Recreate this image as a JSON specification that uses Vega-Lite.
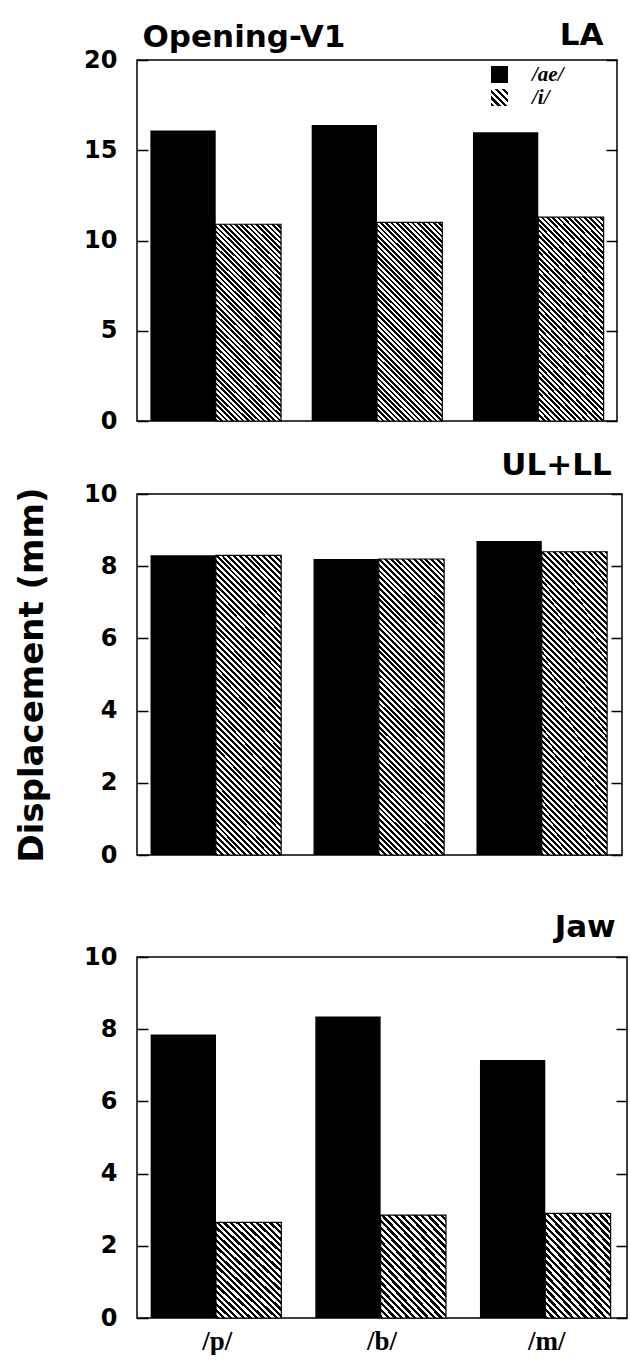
{
"$schema": "https://vega.github.io/schema/vega-lite/v6.json",
"background": "white",
"padding": {"left": 14, "top": 18, "right": 0, "bottom": 0},
"spacing": 15,
"config": {
  "view": {"stroke": "black", "strokeWidth": 1.5},
  "font": "DejaVu Sans",
  "axis": {"grid": false, "domain": false, "labelFont": "DejaVu Sans", "labelFontWeight": "bold", "labelFontSize": 24, "labelColor": "black", "tickColor": "black", "tickWidth": 1.5, "titleFont": "DejaVu Sans", "titleFontWeight": "bold", "titleColor": "black"},
  "title": {"font": "DejaVu Sans", "fontWeight": "bold", "fontSize": 31, "color": "black", "baseline": "alphabetic"},
  "legend": {"title": null, "orient": "none", "symbolType": "square", "symbolSize": 289, "symbolStrokeWidth": 0, "symbolOpacity": 1, "labelFont": "Liberation Serif", "labelFontStyle": "italic", "labelFontWeight": "bold", "labelFontSize": 21, "labelColor": "black", "labelOffset": 22, "padding": 0}
},
"datasets": {"d": [
  {"panel": "LA", "cons": "/p/", "vowel": "/ae/", "value": 16.1},
  {"panel": "LA", "cons": "/p/", "vowel": "/i/", "value": 10.9},
  {"panel": "LA", "cons": "/b/", "vowel": "/ae/", "value": 16.4},
  {"panel": "LA", "cons": "/b/", "vowel": "/i/", "value": 11.0},
  {"panel": "LA", "cons": "/m/", "vowel": "/ae/", "value": 16.0},
  {"panel": "LA", "cons": "/m/", "vowel": "/i/", "value": 11.3},
  {"panel": "ULLL", "cons": "/p/", "vowel": "/ae/", "value": 8.3},
  {"panel": "ULLL", "cons": "/p/", "vowel": "/i/", "value": 8.3},
  {"panel": "ULLL", "cons": "/b/", "vowel": "/ae/", "value": 8.2},
  {"panel": "ULLL", "cons": "/b/", "vowel": "/i/", "value": 8.2},
  {"panel": "ULLL", "cons": "/m/", "vowel": "/ae/", "value": 8.7},
  {"panel": "ULLL", "cons": "/m/", "vowel": "/i/", "value": 8.4},
  {"panel": "Jaw", "cons": "/p/", "vowel": "/ae/", "value": 7.85},
  {"panel": "Jaw", "cons": "/p/", "vowel": "/i/", "value": 2.65},
  {"panel": "Jaw", "cons": "/b/", "vowel": "/ae/", "value": 8.35},
  {"panel": "Jaw", "cons": "/b/", "vowel": "/i/", "value": 2.85},
  {"panel": "Jaw", "cons": "/m/", "vowel": "/ae/", "value": 7.15},
  {"panel": "Jaw", "cons": "/m/", "vowel": "/i/", "value": 2.9}
]},
"vconcat": [
{
  "width": 480, "height": 361,
  "data": {"name": "d"},
  "transform": [{"filter": "datum.panel === 'LA'"}],
  "resolve": {"axis": {"y": "independent"}, "scale": {"opacity": "independent"}, "legend": {"opacity": "independent"}},
  "layer": [
    {
      "transform": [{"filter": "datum.vowel === '/ae/'"}],
      "mark": {"type": "bar", "fill": "black"},
      "encoding": {
        "x": {"field": "cons", "type": "nominal", "scale": {"domain": ["/p/", "/b/", "/m/"], "paddingInner": 0.19, "paddingOuter": 0.083}, "axis": null},
        "xOffset": {"field": "vowel", "type": "nominal", "scale": {"domain": ["/ae/", "/i/"], "paddingInner": 0, "paddingOuter": 0}},
        "y": {"field": "value", "type": "quantitative", "scale": {"domain": [0, 20], "nice": false}, "axis": {"orient": "left", "values": [0, 5, 10, 15, 20], "tickSize": -11, "labelPadding": 31, "title": "Opening-V1", "titleAngle": 0, "titleAlign": "left", "titleBaseline": "alphabetic", "titleX": 5, "titleY": -14, "titleFontSize": 31}},
        "opacity": {"field": "vowel", "type": "ordinal", "scale": {"domain": ["/ae/"], "range": [1]}, "legend": {"legendX": 352, "legendY": 4}}
      }
    },
    {
      "transform": [{"filter": "datum.vowel === '/i/'"}],
      "mark": {"type": "bar", "fill": {"gradient": "linear", "x1": 0, "y1": 1, "x2": 1, "y2": 0, "stops": [
              {"offset":0,"color":"#000"},{"offset":0.1,"color":"#000"},{"offset":0.1,"color":"#fff"},{"offset":0.2,"color":"#fff"},{"offset":0.2,"color":"#000"},{"offset":0.3,"color":"#000"},{"offset":0.3,"color":"#fff"},{"offset":0.4,"color":"#fff"},{"offset":0.4,"color":"#000"},{"offset":0.5,"color":"#000"},{"offset":0.5,"color":"#fff"},{"offset":0.6,"color":"#fff"},{"offset":0.6,"color":"#000"},{"offset":0.7,"color":"#000"},{"offset":0.7,"color":"#fff"},{"offset":0.8,"color":"#fff"},{"offset":0.8,"color":"#000"},{"offset":0.9,"color":"#000"},{"offset":0.9,"color":"#fff"},{"offset":1,"color":"#fff"}]}},
      "encoding": {
        "x": {"field": "cons", "type": "nominal", "axis": null},
        "xOffset": {"field": "vowel", "type": "nominal"},
        "y": {"field": "value", "type": "quantitative", "axis": null},
        "y2": {"field": "value"},
        "opacity": {"field": "vowel", "type": "ordinal", "scale": {"domain": ["/i/"], "range": [1]}, "legend": {"legendX": 352, "legendY": 27}}
      }
    },
    {
      "transform": [{"filter": "datum.vowel === '/i/'"}],
      "mark": {"type": "bar", "stroke": "black", "strokeWidth": 1.2, "fill": {"gradient": "linear", "x1": 0, "y1": 1, "x2": 0.394, "y2": -0.2, "stops": [
        {"offset":0,"color":"#000"},
        {"offset":0.01,"color":"#000"},{"offset":0.01,"color":"#fff"},{"offset":0.02,"color":"#fff"},{"offset":0.02,"color":"#000"},
        {"offset":0.03,"color":"#000"},{"offset":0.03,"color":"#fff"},{"offset":0.04,"color":"#fff"},{"offset":0.04,"color":"#000"},
        {"offset":0.05,"color":"#000"},{"offset":0.05,"color":"#fff"},{"offset":0.06,"color":"#fff"},{"offset":0.06,"color":"#000"},
        {"offset":0.07,"color":"#000"},{"offset":0.07,"color":"#fff"},{"offset":0.08,"color":"#fff"},{"offset":0.08,"color":"#000"},
        {"offset":0.09,"color":"#000"},{"offset":0.09,"color":"#fff"},{"offset":0.10,"color":"#fff"},{"offset":0.10,"color":"#000"},
        {"offset":0.11,"color":"#000"},{"offset":0.11,"color":"#fff"},{"offset":0.12,"color":"#fff"},{"offset":0.12,"color":"#000"},
        {"offset":0.13,"color":"#000"},{"offset":0.13,"color":"#fff"},{"offset":0.14,"color":"#fff"},{"offset":0.14,"color":"#000"},
        {"offset":0.15,"color":"#000"},{"offset":0.15,"color":"#fff"},{"offset":0.16,"color":"#fff"},{"offset":0.16,"color":"#000"},
        {"offset":0.17,"color":"#000"},{"offset":0.17,"color":"#fff"},{"offset":0.18,"color":"#fff"},{"offset":0.18,"color":"#000"},
        {"offset":0.19,"color":"#000"},{"offset":0.19,"color":"#fff"},{"offset":0.20,"color":"#fff"},{"offset":0.20,"color":"#000"},
        {"offset":0.21,"color":"#000"},{"offset":0.21,"color":"#fff"},{"offset":0.22,"color":"#fff"},{"offset":0.22,"color":"#000"},
        {"offset":0.23,"color":"#000"},{"offset":0.23,"color":"#fff"},{"offset":0.24,"color":"#fff"},{"offset":0.24,"color":"#000"},
        {"offset":0.25,"color":"#000"},{"offset":0.25,"color":"#fff"},{"offset":0.26,"color":"#fff"},{"offset":0.26,"color":"#000"},
        {"offset":0.27,"color":"#000"},{"offset":0.27,"color":"#fff"},{"offset":0.28,"color":"#fff"},{"offset":0.28,"color":"#000"},
        {"offset":0.29,"color":"#000"},{"offset":0.29,"color":"#fff"},{"offset":0.30,"color":"#fff"},{"offset":0.30,"color":"#000"},
        {"offset":0.31,"color":"#000"},{"offset":0.31,"color":"#fff"},{"offset":0.32,"color":"#fff"},{"offset":0.32,"color":"#000"},
        {"offset":0.33,"color":"#000"},{"offset":0.33,"color":"#fff"},{"offset":0.34,"color":"#fff"},{"offset":0.34,"color":"#000"},
        {"offset":0.35,"color":"#000"},{"offset":0.35,"color":"#fff"},{"offset":0.36,"color":"#fff"},{"offset":0.36,"color":"#000"},
        {"offset":0.37,"color":"#000"},{"offset":0.37,"color":"#fff"},{"offset":0.38,"color":"#fff"},{"offset":0.38,"color":"#000"},
        {"offset":0.39,"color":"#000"},{"offset":0.39,"color":"#fff"},{"offset":0.40,"color":"#fff"},{"offset":0.40,"color":"#000"},
        {"offset":0.41,"color":"#000"},{"offset":0.41,"color":"#fff"},{"offset":0.42,"color":"#fff"},{"offset":0.42,"color":"#000"},
        {"offset":0.43,"color":"#000"},{"offset":0.43,"color":"#fff"},{"offset":0.44,"color":"#fff"},{"offset":0.44,"color":"#000"},
        {"offset":0.45,"color":"#000"},{"offset":0.45,"color":"#fff"},{"offset":0.46,"color":"#fff"},{"offset":0.46,"color":"#000"},
        {"offset":0.47,"color":"#000"},{"offset":0.47,"color":"#fff"},{"offset":0.48,"color":"#fff"},{"offset":0.48,"color":"#000"},
        {"offset":0.49,"color":"#000"},{"offset":0.49,"color":"#fff"},{"offset":0.50,"color":"#fff"},{"offset":0.50,"color":"#000"},
        {"offset":0.51,"color":"#000"},{"offset":0.51,"color":"#fff"},{"offset":0.52,"color":"#fff"},{"offset":0.52,"color":"#000"},
        {"offset":0.53,"color":"#000"},{"offset":0.53,"color":"#fff"},{"offset":0.54,"color":"#fff"},{"offset":0.54,"color":"#000"},
        {"offset":0.55,"color":"#000"},{"offset":0.55,"color":"#fff"},{"offset":0.56,"color":"#fff"},{"offset":0.56,"color":"#000"},
        {"offset":0.57,"color":"#000"},{"offset":0.57,"color":"#fff"},{"offset":0.58,"color":"#fff"},{"offset":0.58,"color":"#000"},
        {"offset":0.59,"color":"#000"},{"offset":0.59,"color":"#fff"},{"offset":0.60,"color":"#fff"},{"offset":0.60,"color":"#000"},
        {"offset":0.61,"color":"#000"},{"offset":0.61,"color":"#fff"},{"offset":0.62,"color":"#fff"},{"offset":0.62,"color":"#000"},
        {"offset":0.63,"color":"#000"},{"offset":0.63,"color":"#fff"},{"offset":0.64,"color":"#fff"},{"offset":0.64,"color":"#000"},
        {"offset":0.65,"color":"#000"},{"offset":0.65,"color":"#fff"},{"offset":0.66,"color":"#fff"},{"offset":0.66,"color":"#000"},
        {"offset":0.67,"color":"#000"},{"offset":0.67,"color":"#fff"},{"offset":0.68,"color":"#fff"},{"offset":0.68,"color":"#000"},
        {"offset":0.69,"color":"#000"},{"offset":0.69,"color":"#fff"},{"offset":0.70,"color":"#fff"},{"offset":0.70,"color":"#000"},
        {"offset":0.71,"color":"#000"},{"offset":0.71,"color":"#fff"},{"offset":0.72,"color":"#fff"},{"offset":0.72,"color":"#000"},
        {"offset":0.73,"color":"#000"},{"offset":0.73,"color":"#fff"},{"offset":0.74,"color":"#fff"},{"offset":0.74,"color":"#000"},
        {"offset":0.75,"color":"#000"},{"offset":0.75,"color":"#fff"},{"offset":0.76,"color":"#fff"},{"offset":0.76,"color":"#000"},
        {"offset":0.77,"color":"#000"},{"offset":0.77,"color":"#fff"},{"offset":0.78,"color":"#fff"},{"offset":0.78,"color":"#000"},
        {"offset":0.79,"color":"#000"},{"offset":0.79,"color":"#fff"},{"offset":0.80,"color":"#fff"},{"offset":0.80,"color":"#000"},
        {"offset":0.81,"color":"#000"},{"offset":0.81,"color":"#fff"},{"offset":0.82,"color":"#fff"},{"offset":0.82,"color":"#000"},
        {"offset":0.83,"color":"#000"},{"offset":0.83,"color":"#fff"},{"offset":0.84,"color":"#fff"},{"offset":0.84,"color":"#000"},
        {"offset":0.85,"color":"#000"},{"offset":0.85,"color":"#fff"},{"offset":0.86,"color":"#fff"},{"offset":0.86,"color":"#000"},
        {"offset":0.87,"color":"#000"},{"offset":0.87,"color":"#fff"},{"offset":0.88,"color":"#fff"},{"offset":0.88,"color":"#000"},
        {"offset":0.89,"color":"#000"},{"offset":0.89,"color":"#fff"},{"offset":0.90,"color":"#fff"},{"offset":0.90,"color":"#000"},
        {"offset":0.91,"color":"#000"},{"offset":0.91,"color":"#fff"},{"offset":0.92,"color":"#fff"},{"offset":0.92,"color":"#000"},
        {"offset":0.93,"color":"#000"},{"offset":0.93,"color":"#fff"},{"offset":0.94,"color":"#fff"},{"offset":0.94,"color":"#000"},
        {"offset":0.95,"color":"#000"},{"offset":0.95,"color":"#fff"},{"offset":0.96,"color":"#fff"},{"offset":0.96,"color":"#000"},
        {"offset":0.97,"color":"#000"},{"offset":0.97,"color":"#fff"},{"offset":0.98,"color":"#fff"},{"offset":0.98,"color":"#000"},
        {"offset":0.99,"color":"#000"},{"offset":0.99,"color":"#fff"},{"offset":1,"color":"#fff"}]}},
      "encoding": {
        "x": {"field": "cons", "type": "nominal", "axis": null},
        "xOffset": {"field": "vowel", "type": "nominal"},
        "y": {"field": "value", "type": "quantitative", "axis": {"orient": "right", "values": [0, 5, 10, 15, 20], "labels": false, "tickSize": -11, "title": "LA", "titleAngle": 0, "titleAlign": "right", "titleBaseline": "alphabetic", "titleX": -14, "titleY": -16, "titleFontSize": 31}}
      }
    }
  ]
},
{
  "width": 485, "height": 361,
  "title": {"text": "UL+LL", "anchor": "end", "offset": 0, "dx": -11},
  "data": {"name": "d"},
  "transform": [{"filter": "datum.panel === 'ULLL'"}],
  "resolve": {"axis": {"y": "independent"}},
  "layer": [
    {
      "transform": [{"filter": "datum.vowel === '/ae/'"}],
      "mark": {"type": "bar", "fill": "black"},
      "encoding": {
        "x": {"field": "cons", "type": "nominal", "scale": {"domain": ["/p/", "/b/", "/m/"], "paddingInner": 0.19, "paddingOuter": 0.083}, "axis": {"labels": false, "ticks": false, "domain": false, "title": null, "minExtent": 40, "maxExtent": 40}},
        "xOffset": {"field": "vowel", "type": "nominal", "scale": {"domain": ["/ae/", "/i/"], "paddingInner": 0, "paddingOuter": 0}},
        "y": {"field": "value", "type": "quantitative", "scale": {"domain": [0, 10], "nice": false}, "axis": {"orient": "left", "values": [0, 2, 4, 6, 8, 10], "title": "Displacement (mm)", "titleFontSize": 34, "titlePadding": 34, "tickSize": -11, "labelPadding": 31}}
      }
    },
    {
      "transform": [{"filter": "datum.vowel === '/i/'"}],
      "mark": {"type": "bar", "stroke": "black", "strokeWidth": 1.2, "fill": {"gradient": "linear", "x1": 0, "y1": 1, "x2": 0.256, "y2": -0.164, "stops": [
        {"offset":0,"color":"#000"},
        {"offset":0.008,"color":"#000"},{"offset":0.008,"color":"#fff"},{"offset":0.016,"color":"#fff"},{"offset":0.016,"color":"#000"},
        {"offset":0.024,"color":"#000"},{"offset":0.024,"color":"#fff"},{"offset":0.032,"color":"#fff"},{"offset":0.032,"color":"#000"},
        {"offset":0.04,"color":"#000"},{"offset":0.04,"color":"#fff"},{"offset":0.048,"color":"#fff"},{"offset":0.048,"color":"#000"},
        {"offset":0.056,"color":"#000"},{"offset":0.056,"color":"#fff"},{"offset":0.064,"color":"#fff"},{"offset":0.064,"color":"#000"},
        {"offset":0.072,"color":"#000"},{"offset":0.072,"color":"#fff"},{"offset":0.08,"color":"#fff"},{"offset":0.08,"color":"#000"},
        {"offset":0.088,"color":"#000"},{"offset":0.088,"color":"#fff"},{"offset":0.096,"color":"#fff"},{"offset":0.096,"color":"#000"},
        {"offset":0.104,"color":"#000"},{"offset":0.104,"color":"#fff"},{"offset":0.112,"color":"#fff"},{"offset":0.112,"color":"#000"},
        {"offset":0.12,"color":"#000"},{"offset":0.12,"color":"#fff"},{"offset":0.128,"color":"#fff"},{"offset":0.128,"color":"#000"},
        {"offset":0.136,"color":"#000"},{"offset":0.136,"color":"#fff"},{"offset":0.144,"color":"#fff"},{"offset":0.144,"color":"#000"},
        {"offset":0.152,"color":"#000"},{"offset":0.152,"color":"#fff"},{"offset":0.16,"color":"#fff"},{"offset":0.16,"color":"#000"},
        {"offset":0.168,"color":"#000"},{"offset":0.168,"color":"#fff"},{"offset":0.176,"color":"#fff"},{"offset":0.176,"color":"#000"},
        {"offset":0.184,"color":"#000"},{"offset":0.184,"color":"#fff"},{"offset":0.192,"color":"#fff"},{"offset":0.192,"color":"#000"},
        {"offset":0.2,"color":"#000"},{"offset":0.2,"color":"#fff"},{"offset":0.208,"color":"#fff"},{"offset":0.208,"color":"#000"},
        {"offset":0.216,"color":"#000"},{"offset":0.216,"color":"#fff"},{"offset":0.224,"color":"#fff"},{"offset":0.224,"color":"#000"},
        {"offset":0.232,"color":"#000"},{"offset":0.232,"color":"#fff"},{"offset":0.24,"color":"#fff"},{"offset":0.24,"color":"#000"},
        {"offset":0.248,"color":"#000"},{"offset":0.248,"color":"#fff"},{"offset":0.256,"color":"#fff"},{"offset":0.256,"color":"#000"},
        {"offset":0.264,"color":"#000"},{"offset":0.264,"color":"#fff"},{"offset":0.272,"color":"#fff"},{"offset":0.272,"color":"#000"},
        {"offset":0.28,"color":"#000"},{"offset":0.28,"color":"#fff"},{"offset":0.288,"color":"#fff"},{"offset":0.288,"color":"#000"},
        {"offset":0.296,"color":"#000"},{"offset":0.296,"color":"#fff"},{"offset":0.304,"color":"#fff"},{"offset":0.304,"color":"#000"},
        {"offset":0.312,"color":"#000"},{"offset":0.312,"color":"#fff"},{"offset":0.32,"color":"#fff"},{"offset":0.32,"color":"#000"},
        {"offset":0.328,"color":"#000"},{"offset":0.328,"color":"#fff"},{"offset":0.336,"color":"#fff"},{"offset":0.336,"color":"#000"},
        {"offset":0.344,"color":"#000"},{"offset":0.344,"color":"#fff"},{"offset":0.352,"color":"#fff"},{"offset":0.352,"color":"#000"},
        {"offset":0.36,"color":"#000"},{"offset":0.36,"color":"#fff"},{"offset":0.368,"color":"#fff"},{"offset":0.368,"color":"#000"},
        {"offset":0.376,"color":"#000"},{"offset":0.376,"color":"#fff"},{"offset":0.384,"color":"#fff"},{"offset":0.384,"color":"#000"},
        {"offset":0.392,"color":"#000"},{"offset":0.392,"color":"#fff"},{"offset":0.4,"color":"#fff"},{"offset":0.4,"color":"#000"},
        {"offset":0.408,"color":"#000"},{"offset":0.408,"color":"#fff"},{"offset":0.416,"color":"#fff"},{"offset":0.416,"color":"#000"},
        {"offset":0.424,"color":"#000"},{"offset":0.424,"color":"#fff"},{"offset":0.432,"color":"#fff"},{"offset":0.432,"color":"#000"},
        {"offset":0.44,"color":"#000"},{"offset":0.44,"color":"#fff"},{"offset":0.448,"color":"#fff"},{"offset":0.448,"color":"#000"},
        {"offset":0.456,"color":"#000"},{"offset":0.456,"color":"#fff"},{"offset":0.464,"color":"#fff"},{"offset":0.464,"color":"#000"},
        {"offset":0.472,"color":"#000"},{"offset":0.472,"color":"#fff"},{"offset":0.48,"color":"#fff"},{"offset":0.48,"color":"#000"},
        {"offset":0.488,"color":"#000"},{"offset":0.488,"color":"#fff"},{"offset":0.496,"color":"#fff"},{"offset":0.496,"color":"#000"},
        {"offset":0.504,"color":"#000"},{"offset":0.504,"color":"#fff"},{"offset":0.512,"color":"#fff"},{"offset":0.512,"color":"#000"},
        {"offset":0.52,"color":"#000"},{"offset":0.52,"color":"#fff"},{"offset":0.528,"color":"#fff"},{"offset":0.528,"color":"#000"},
        {"offset":0.536,"color":"#000"},{"offset":0.536,"color":"#fff"},{"offset":0.544,"color":"#fff"},{"offset":0.544,"color":"#000"},
        {"offset":0.552,"color":"#000"},{"offset":0.552,"color":"#fff"},{"offset":0.56,"color":"#fff"},{"offset":0.56,"color":"#000"},
        {"offset":0.568,"color":"#000"},{"offset":0.568,"color":"#fff"},{"offset":0.576,"color":"#fff"},{"offset":0.576,"color":"#000"},
        {"offset":0.584,"color":"#000"},{"offset":0.584,"color":"#fff"},{"offset":0.592,"color":"#fff"},{"offset":0.592,"color":"#000"},
        {"offset":0.6,"color":"#000"},{"offset":0.6,"color":"#fff"},{"offset":0.608,"color":"#fff"},{"offset":0.608,"color":"#000"},
        {"offset":0.616,"color":"#000"},{"offset":0.616,"color":"#fff"},{"offset":0.624,"color":"#fff"},{"offset":0.624,"color":"#000"},
        {"offset":0.632,"color":"#000"},{"offset":0.632,"color":"#fff"},{"offset":0.64,"color":"#fff"},{"offset":0.64,"color":"#000"},
        {"offset":0.648,"color":"#000"},{"offset":0.648,"color":"#fff"},{"offset":0.656,"color":"#fff"},{"offset":0.656,"color":"#000"},
        {"offset":0.664,"color":"#000"},{"offset":0.664,"color":"#fff"},{"offset":0.672,"color":"#fff"},{"offset":0.672,"color":"#000"},
        {"offset":0.68,"color":"#000"},{"offset":0.68,"color":"#fff"},{"offset":0.688,"color":"#fff"},{"offset":0.688,"color":"#000"},
        {"offset":0.696,"color":"#000"},{"offset":0.696,"color":"#fff"},{"offset":0.704,"color":"#fff"},{"offset":0.704,"color":"#000"},
        {"offset":0.712,"color":"#000"},{"offset":0.712,"color":"#fff"},{"offset":0.72,"color":"#fff"},{"offset":0.72,"color":"#000"},
        {"offset":0.728,"color":"#000"},{"offset":0.728,"color":"#fff"},{"offset":0.736,"color":"#fff"},{"offset":0.736,"color":"#000"},
        {"offset":0.744,"color":"#000"},{"offset":0.744,"color":"#fff"},{"offset":0.752,"color":"#fff"},{"offset":0.752,"color":"#000"},
        {"offset":0.76,"color":"#000"},{"offset":0.76,"color":"#fff"},{"offset":0.768,"color":"#fff"},{"offset":0.768,"color":"#000"},
        {"offset":0.776,"color":"#000"},{"offset":0.776,"color":"#fff"},{"offset":0.784,"color":"#fff"},{"offset":0.784,"color":"#000"},
        {"offset":0.792,"color":"#000"},{"offset":0.792,"color":"#fff"},{"offset":0.8,"color":"#fff"},{"offset":0.8,"color":"#000"},
        {"offset":0.808,"color":"#000"},{"offset":0.808,"color":"#fff"},{"offset":0.816,"color":"#fff"},{"offset":0.816,"color":"#000"},
        {"offset":0.824,"color":"#000"},{"offset":0.824,"color":"#fff"},{"offset":0.832,"color":"#fff"},{"offset":0.832,"color":"#000"},
        {"offset":0.84,"color":"#000"},{"offset":0.84,"color":"#fff"},{"offset":0.848,"color":"#fff"},{"offset":0.848,"color":"#000"},
        {"offset":0.856,"color":"#000"},{"offset":0.856,"color":"#fff"},{"offset":0.864,"color":"#fff"},{"offset":0.864,"color":"#000"},
        {"offset":0.872,"color":"#000"},{"offset":0.872,"color":"#fff"},{"offset":0.88,"color":"#fff"},{"offset":0.88,"color":"#000"},
        {"offset":0.888,"color":"#000"},{"offset":0.888,"color":"#fff"},{"offset":0.896,"color":"#fff"},{"offset":0.896,"color":"#000"},
        {"offset":0.904,"color":"#000"},{"offset":0.904,"color":"#fff"},{"offset":0.912,"color":"#fff"},{"offset":0.912,"color":"#000"},
        {"offset":0.92,"color":"#000"},{"offset":0.92,"color":"#fff"},{"offset":0.928,"color":"#fff"},{"offset":0.928,"color":"#000"},
        {"offset":0.936,"color":"#000"},{"offset":0.936,"color":"#fff"},{"offset":0.944,"color":"#fff"},{"offset":0.944,"color":"#000"},
        {"offset":0.952,"color":"#000"},{"offset":0.952,"color":"#fff"},{"offset":0.96,"color":"#fff"},{"offset":0.96,"color":"#000"},
        {"offset":0.968,"color":"#000"},{"offset":0.968,"color":"#fff"},{"offset":0.976,"color":"#fff"},{"offset":0.976,"color":"#000"},
        {"offset":0.984,"color":"#000"},{"offset":0.984,"color":"#fff"},{"offset":0.992,"color":"#fff"},{"offset":0.992,"color":"#000"},
        {"offset":1,"color":"#000"}]}},
      "encoding": {
        "x": {"field": "cons", "type": "nominal", "axis": {"labels": false, "ticks": false, "domain": false, "title": null, "minExtent": 40, "maxExtent": 40}},
        "xOffset": {"field": "vowel", "type": "nominal"},
        "y": {"field": "value", "type": "quantitative", "axis": {"orient": "right", "values": [0, 2, 4, 6, 8, 10], "labels": false, "tickSize": -11, "title": null}}
      }
    }
  ]
},
{
  "width": 490, "height": 361,
  "title": {"text": "Jaw", "anchor": "end", "offset": 1, "dx": -12},
  "data": {"name": "d"},
  "transform": [{"filter": "datum.panel === 'Jaw'"}],
  "resolve": {"axis": {"y": "independent"}},
  "layer": [
    {
      "transform": [{"filter": "datum.vowel === '/ae/'"}],
      "mark": {"type": "bar", "fill": "black"},
      "encoding": {
        "x": {"field": "cons", "type": "nominal", "scale": {"domain": ["/p/", "/b/", "/m/"], "paddingInner": 0.19, "paddingOuter": 0.083}, "axis": {"title": null, "ticks": false, "domain": false, "labelAngle": 0, "labelFont": "Liberation Serif", "labelFontWeight": "bold", "labelFontSize": 27, "labelPadding": 10}},
        "xOffset": {"field": "vowel", "type": "nominal", "scale": {"domain": ["/ae/", "/i/"], "paddingInner": 0, "paddingOuter": 0}},
        "y": {"field": "value", "type": "quantitative", "scale": {"domain": [0, 10], "nice": false}, "axis": {"orient": "left", "values": [0, 2, 4, 6, 8, 10], "title": null, "tickSize": -11, "labelPadding": 31}}
      }
    },
    {
      "transform": [{"filter": "datum.vowel === '/i/'"}],
      "mark": {"type": "bar", "stroke": "black", "strokeWidth": 1.2, "fill": {"gradient": "linear", "x1": 0, "y1": 1, "x2": 0.763, "y2": -0.156, "stops": [
        {"offset":0,"color":"#000"},
        {"offset":0.02,"color":"#000"},{"offset":0.02,"color":"#fff"},{"offset":0.04,"color":"#fff"},{"offset":0.04,"color":"#000"},
        {"offset":0.06,"color":"#000"},{"offset":0.06,"color":"#fff"},{"offset":0.08,"color":"#fff"},{"offset":0.08,"color":"#000"},
        {"offset":0.10,"color":"#000"},{"offset":0.10,"color":"#fff"},{"offset":0.12,"color":"#fff"},{"offset":0.12,"color":"#000"},
        {"offset":0.14,"color":"#000"},{"offset":0.14,"color":"#fff"},{"offset":0.16,"color":"#fff"},{"offset":0.16,"color":"#000"},
        {"offset":0.18,"color":"#000"},{"offset":0.18,"color":"#fff"},{"offset":0.20,"color":"#fff"},{"offset":0.20,"color":"#000"},
        {"offset":0.22,"color":"#000"},{"offset":0.22,"color":"#fff"},{"offset":0.24,"color":"#fff"},{"offset":0.24,"color":"#000"},
        {"offset":0.26,"color":"#000"},{"offset":0.26,"color":"#fff"},{"offset":0.28,"color":"#fff"},{"offset":0.28,"color":"#000"},
        {"offset":0.30,"color":"#000"},{"offset":0.30,"color":"#fff"},{"offset":0.32,"color":"#fff"},{"offset":0.32,"color":"#000"},
        {"offset":0.34,"color":"#000"},{"offset":0.34,"color":"#fff"},{"offset":0.36,"color":"#fff"},{"offset":0.36,"color":"#000"},
        {"offset":0.38,"color":"#000"},{"offset":0.38,"color":"#fff"},{"offset":0.40,"color":"#fff"},{"offset":0.40,"color":"#000"},
        {"offset":0.42,"color":"#000"},{"offset":0.42,"color":"#fff"},{"offset":0.44,"color":"#fff"},{"offset":0.44,"color":"#000"},
        {"offset":0.46,"color":"#000"},{"offset":0.46,"color":"#fff"},{"offset":0.48,"color":"#fff"},{"offset":0.48,"color":"#000"},
        {"offset":0.50,"color":"#000"},{"offset":0.50,"color":"#fff"},{"offset":0.52,"color":"#fff"},{"offset":0.52,"color":"#000"},
        {"offset":0.54,"color":"#000"},{"offset":0.54,"color":"#fff"},{"offset":0.56,"color":"#fff"},{"offset":0.56,"color":"#000"},
        {"offset":0.58,"color":"#000"},{"offset":0.58,"color":"#fff"},{"offset":0.60,"color":"#fff"},{"offset":0.60,"color":"#000"},
        {"offset":0.62,"color":"#000"},{"offset":0.62,"color":"#fff"},{"offset":0.64,"color":"#fff"},{"offset":0.64,"color":"#000"},
        {"offset":0.66,"color":"#000"},{"offset":0.66,"color":"#fff"},{"offset":0.68,"color":"#fff"},{"offset":0.68,"color":"#000"},
        {"offset":0.70,"color":"#000"},{"offset":0.70,"color":"#fff"},{"offset":0.72,"color":"#fff"},{"offset":0.72,"color":"#000"},
        {"offset":0.74,"color":"#000"},{"offset":0.74,"color":"#fff"},{"offset":0.76,"color":"#fff"},{"offset":0.76,"color":"#000"},
        {"offset":0.78,"color":"#000"},{"offset":0.78,"color":"#fff"},{"offset":0.80,"color":"#fff"},{"offset":0.80,"color":"#000"},
        {"offset":0.82,"color":"#000"},{"offset":0.82,"color":"#fff"},{"offset":0.84,"color":"#fff"},{"offset":0.84,"color":"#000"},
        {"offset":0.86,"color":"#000"},{"offset":0.86,"color":"#fff"},{"offset":0.88,"color":"#fff"},{"offset":0.88,"color":"#000"},
        {"offset":0.90,"color":"#000"},{"offset":0.90,"color":"#fff"},{"offset":0.92,"color":"#fff"},{"offset":0.92,"color":"#000"},
        {"offset":0.94,"color":"#000"},{"offset":0.94,"color":"#fff"},{"offset":0.96,"color":"#fff"},{"offset":0.96,"color":"#000"},
        {"offset":0.98,"color":"#000"},{"offset":0.98,"color":"#fff"},{"offset":1,"color":"#fff"}]}},
      "encoding": {
        "x": {"field": "cons", "type": "nominal", "axis": {"title": null, "ticks": false, "domain": false, "labelAngle": 0, "labelFont": "Liberation Serif", "labelFontWeight": "bold", "labelFontSize": 27, "labelPadding": 10}},
        "xOffset": {"field": "vowel", "type": "nominal"},
        "y": {"field": "value", "type": "quantitative", "axis": {"orient": "right", "values": [0, 2, 4, 6, 8, 10], "labels": false, "tickSize": -11, "title": null}}
      }
    }
  ]
}
]
}
